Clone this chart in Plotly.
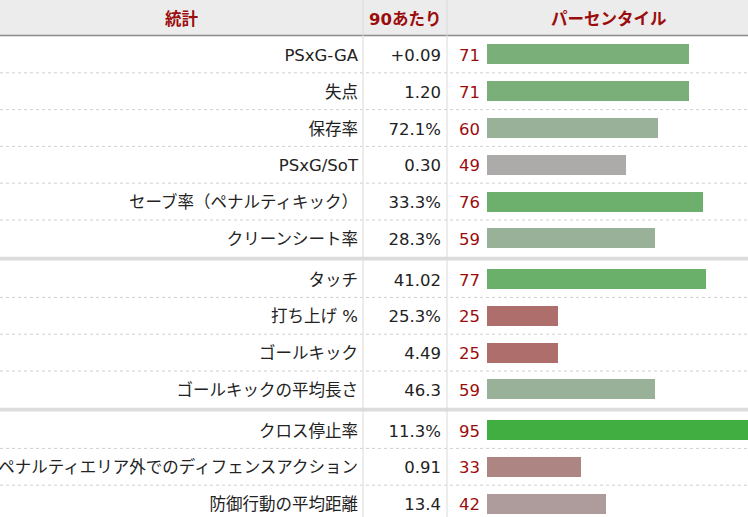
import plotly.graph_objects as go

# table content
stats = [
    "PSxG-GA", "失点", "保存率", "PSxG/SoT", "セーブ率（ペナルティキック）", "クリーンシート率",
    "タッチ", "打ち上げ %", "ゴールキック", "ゴールキックの平均長さ",
    "クロス停止率", "ペナルティエリア外でのディフェンスアクション", "防御行動の平均距離",
]
per90 = [
    "+0.09", "1.20", "72.1%", "0.30", "33.3%", "28.3%",
    "41.02", "25.3%", "4.49", "46.3",
    "11.3%", "0.91", "13.4",
]
percentile = [71, 71, 60, 49, 76, 59, 77, 25, 25, 59, 95, 33, 42]
group = [0, 0, 0, 0, 0, 0, 1, 1, 1, 1, 2, 2, 2]
bar_colors = [
    "#7aaf7a", "#7aaf7a", "#99b099", "#adabaa", "#6daf6d", "#99b099",
    "#6aaf6a", "#ae6f6c", "#ae6f6c", "#99b099",
    "#40ae40", "#ad8583", "#ae9b9b",
]
headers = ["統計", "90あたり", "パーセンタイル"]

W, H = 748, 517
HEAD = 36          # header height px
ROW = 36.8         # row height px
SEP = 3.8          # group separator px
COL1, COL2 = 363, 447
BAR_X0 = 487
PX_PER_PCT = 2.845
FONT = "DejaVu Sans, Noto Sans CJK JP, sans-serif"
FS = 16.5
RED = "#9b0d0d"

sep_u = SEP / ROW
ys = [i + 0.5 + g * sep_u for i, g in enumerate(group)]
ys_text = [y + 2.5 / ROW for y in ys]   # text sits a bit lower than bar centre
y_bottom = (H - HEAD) / ROW

fig = go.Figure()

fig.add_trace(go.Bar(
    x=percentile, y=ys, orientation="h", width=20 / ROW,
    marker=dict(color=bar_colors, line=dict(width=0)),
    xaxis="x2", yaxis="y", hoverinfo="skip",
))

fig.add_trace(go.Scatter(
    x=[COL1 - 5] * len(stats), y=ys_text, text=stats, mode="text",
    textposition="middle left", textfont=dict(size=FS, color="#222", family=FONT),
    hoverinfo="skip",
))
fig.add_trace(go.Scatter(
    x=[COL2 - 6] * len(per90), y=ys_text, text=per90, mode="text",
    textposition="middle left", textfont=dict(size=FS, color="#222", family=FONT),
    hoverinfo="skip",
))
fig.add_trace(go.Scatter(
    x=[BAR_X0 - 7] * len(percentile), y=ys_text, text=[str(p) for p in percentile], mode="text",
    textposition="middle left", textfont=dict(size=FS, color=RED, family=FONT),
    hoverinfo="skip",
))

shapes = []
# header background and border
shapes.append(dict(type="rect", xref="paper", yref="paper", x0=0, x1=1,
                   y0=1 - HEAD / H, y1=1, fillcolor="#ececec", line=dict(width=0), layer="below"))
shapes.append(dict(type="line", xref="paper", yref="paper", x0=0, x1=1,
                   y0=1 - (HEAD - 0.5) / H, y1=1 - (HEAD - 0.5) / H, line=dict(color="#8a8a8a", width=1.5)))
# row separators
for i in range(len(stats) - 1):
    yb = i + 1 + group[i] * sep_u
    if group[i + 1] != group[i]:
        shapes.append(dict(type="rect", xref="paper", yref="y", x0=0, x1=1,
                           y0=yb, y1=yb + sep_u, fillcolor="#dcdcdc", line=dict(width=0)))
    else:
        shapes.append(dict(type="line", xref="paper", yref="y", x0=0, x1=1,
                           y0=yb, y1=yb, line=dict(color="#cfcfcf", width=1, dash="dot")))
# column borders
for cx in (COL1, COL2):
    shapes.append(dict(type="line", xref="x", yref="paper", x0=cx, x1=cx, y0=0, y1=1,
                       line=dict(color="#dadada", width=1)))

header_x = [COL1 / 2, (COL1 + COL2) / 2, (COL2 + BAR_X0 + 100 * PX_PER_PCT) / 2]
annotations = []
for label, cx in zip(headers, header_x):
    annotations.append(dict(text=f"<b>{label}</b>", x=cx, xref="x", y=1 - 19 / H, yref="paper",
                            xanchor="center", yanchor="middle", showarrow=False,
                            font=dict(size=FS, color=RED, family=FONT)))

fig.update_layout(
    width=W, height=H,
    margin=dict(l=0, r=0, t=0, b=0),
    paper_bgcolor="white", plot_bgcolor="rgba(0,0,0,0)",
    showlegend=False,
    xaxis=dict(domain=[0, 1], range=[0, W], visible=False, fixedrange=True),
    xaxis2=dict(domain=[BAR_X0 / W, 1], range=[0, (W - BAR_X0) / PX_PER_PCT],
                visible=False, fixedrange=True, anchor="y"),
    yaxis=dict(domain=[0, 1 - HEAD / H], range=[y_bottom, 0], visible=False, fixedrange=True),
    shapes=shapes, annotations=annotations,
    bargap=0,
)

fig.write_html(
    "out.html",
    config={"displayModeBar": False},
    post_script="document.body.style.margin='0';document.body.style.overflow='hidden';",
)
